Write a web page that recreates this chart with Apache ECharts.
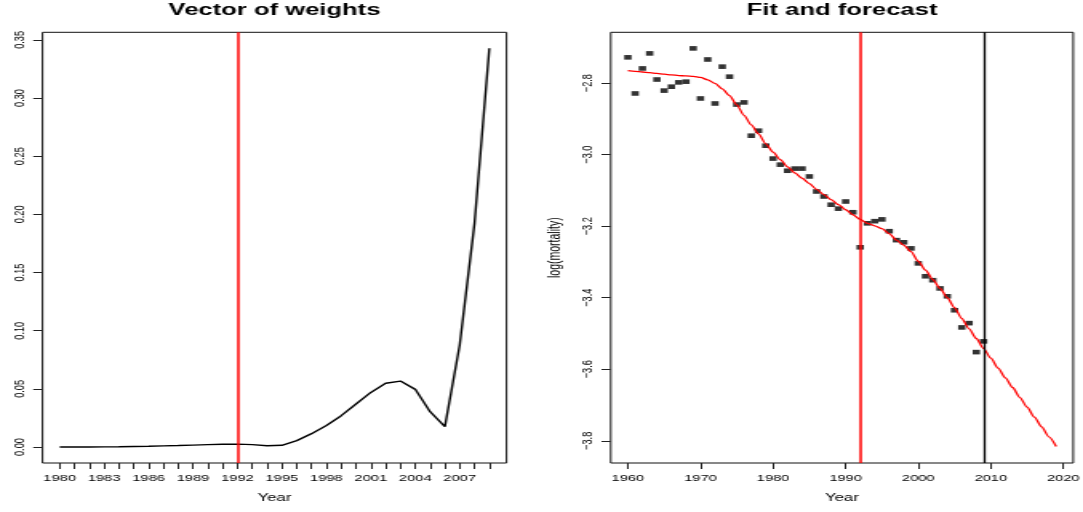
<!DOCTYPE html>
<html>
<head>
<meta charset="utf-8">
<script src="https://cdn.jsdelivr.net/npm/echarts@6/dist/echarts.min.js"></script>
<style>
  html, body { margin: 0; padding: 0; background: #fff; overflow: hidden; }
  /* The figure is laid out on a narrower canvas and widened to the page width,
     which gives the wide lettering and flat point marks of the original plot device. */
  #chart { width: 677px; height: 512px; transform: scaleX(1.5997); transform-origin: 0 0; }
</style>
</head>
<body>
<div id="chart"></div>
<script>
// ---- Left panel: vector of weights ----
const weightYears = [1980, 1981, 1982, 1983, 1984, 1985, 1986, 1987, 1988, 1989,
                     1990, 1991, 1992, 1993, 1994, 1995, 1996, 1997, 1998, 1999,
                     2000, 2001, 2002, 2003, 2004, 2005, 2006, 2007, 2008, 2009];
const weights = [0.0000, 0.0001, 0.0001, 0.0002, 0.0003, 0.0005, 0.0007, 0.0010, 0.0013, 0.0017,
                 0.0021, 0.0024, 0.0025, 0.0021, 0.0011, 0.0015, 0.0055, 0.0115, 0.0185, 0.0270,
                 0.0370, 0.0470, 0.0548, 0.0567, 0.0496, 0.0304, 0.0175, 0.0877, 0.1923, 0.3428];
const weightYearLabels = [1980, 1983, 1986, 1989, 1992, 1995, 1998, 2001, 2004, 2007];
const weightTicks = [0, 0.05, 0.10, 0.15, 0.20, 0.25, 0.30, 0.35];

// ---- Right panel: observed log mortality, fit and forecast ----
const obsYears = [1960, 1961, 1962, 1963, 1964, 1965, 1966, 1967, 1968, 1969,
                  1970, 1971, 1972, 1973, 1974, 1975, 1976, 1977, 1978, 1979,
                  1980, 1981, 1982, 1983, 1984, 1985, 1986, 1987, 1988, 1989,
                  1990, 1991, 1992, 1993, 1994, 1995, 1996, 1997, 1998, 1999,
                  2000, 2001, 2002, 2003, 2004, 2005, 2006, 2007, 2008, 2009];
const obsLogMortality = [-2.728, -2.829, -2.759, -2.717, -2.790, -2.821, -2.810, -2.798, -2.796, -2.703,
                         -2.843, -2.734, -2.857, -2.754, -2.782, -2.860, -2.854, -2.947, -2.933, -2.975,
                         -3.011, -3.028, -3.045, -3.039, -3.039, -3.061, -3.103, -3.117, -3.140, -3.151,
                         -3.131, -3.161, -3.259, -3.192, -3.186, -3.181, -3.214, -3.239, -3.245, -3.262,
                         -3.304, -3.340, -3.351, -3.374, -3.396, -3.435, -3.483, -3.471, -3.552, -3.522];
const fitYears = [1960, 1961, 1962, 1963, 1964, 1965, 1966, 1967, 1968, 1969,
                  1970, 1971, 1972, 1973, 1974, 1975, 1976, 1977, 1978, 1979,
                  1980, 1981, 1982, 1983, 1984, 1985, 1986, 1987, 1988, 1989,
                  1990, 1991, 1992, 1993, 1994, 1995, 1996, 1997, 1998, 1999,
                  2000, 2001, 2002, 2003, 2004, 2005, 2006, 2007, 2008, 2009,
                  2010, 2011, 2012, 2013, 2014, 2015, 2016, 2017, 2018, 2019];
const fitLogMortality = [-2.765, -2.767, -2.769, -2.771, -2.773, -2.775, -2.777, -2.779, -2.780, -2.781,
                         -2.784, -2.791, -2.801, -2.816, -2.835, -2.861, -2.890, -2.917, -2.942, -2.970,
                         -2.993, -3.014, -3.034, -3.051, -3.066, -3.081, -3.097, -3.112, -3.126, -3.140,
                         -3.154, -3.168, -3.181, -3.192, -3.199, -3.207, -3.221, -3.239, -3.253, -3.271,
                         -3.298, -3.323, -3.349, -3.374, -3.400, -3.428, -3.458, -3.487, -3.514, -3.542,
                         -3.569, -3.597, -3.624, -3.651, -3.679, -3.706, -3.734, -3.761, -3.789, -3.816];
const decadeLabels = [1960, 1970, 1980, 1990, 2000, 2010, 2020];
const logMortalityTicks = [-3.8, -3.6, -3.4, -3.2, -3.0, -2.8];

const splitYear = 1992;     // red reference line, both panels
const lastObsYear = 2009;   // end of observed data, start of forecast

const FONT = "'Liberation Sans', Arial, Helvetica, sans-serif";
const minus = s => s.replace('-', '\u2212');

const pairs = (xs, ys) => xs.map((x, i) => [x, ys[i]]);

const vLine = (value, color, width) => ({
  silent: true,
  symbol: 'none',
  label: { show: false },
  emphasis: { disabled: true },
  lineStyle: { color: color, width: width, type: 'solid' },
  data: [{ xAxis: value }]
});

const tickStyle = { color: '#222', width: 1 };
const labelStyle = { color: '#000', fontSize: 9.2, fontFamily: FONT };
const nameStyle = { color: '#000', fontSize: 10.5, fontFamily: FONT };
const titleStyle = { fontSize: 16, fontWeight: 'bold', color: '#000', fontFamily: FONT };

const chart = echarts.init(document.getElementById('chart'), null, { renderer: 'canvas' });

chart.setOption({
  animation: false,
  backgroundColor: '#ffffff',
  title: [
    { text: 'Vector of weights', left: 171.6, top: 3, padding: 0, textAlign: 'center', textStyle: titleStyle },
    { text: 'Fit and forecast', left: 526.4, top: 3, padding: 0, textAlign: 'center', textStyle: titleStyle }
  ],
  grid: [
    { left: 26.6, top: 32.3, width: 290, height: 430.7, containLabel: false, outerBoundsMode: 'none',
      show: true, borderColor: '#111', borderWidth: 1, backgroundColor: 'transparent' },
    { left: 381.8, top: 32.3, width: 289.1, height: 430.7, containLabel: false, outerBoundsMode: 'none',
      show: true, borderColor: '#111', borderWidth: 1, backgroundColor: 'transparent' }
  ],
  xAxis: [
    {
      type: 'value', gridIndex: 0, min: 1978.84, max: 2010.16,
      axisLine: { show: false, onZero: false }, splitLine: { show: false },
      axisTick: { show: true, length: 6, customValues: weightYears, lineStyle: tickStyle },
      axisLabel: Object.assign({ customValues: weightYearLabels, margin: 11, formatter: v => String(v) }, labelStyle),
      name: 'Year', nameLocation: 'middle', nameGap: 30, nameTextStyle: nameStyle
    },
    {
      type: 'value', gridIndex: 1, min: 1957.64, max: 2021.36,
      axisLine: { show: false, onZero: false }, splitLine: { show: false },
      axisTick: { show: true, length: 6, customValues: decadeLabels, lineStyle: tickStyle },
      axisLabel: Object.assign({ customValues: decadeLabels, margin: 11, formatter: v => String(v) }, labelStyle),
      name: 'Year', nameLocation: 'middle', nameGap: 30, nameTextStyle: nameStyle
    }
  ],
  yAxis: [
    {
      type: 'value', gridIndex: 0, min: -0.0137, max: 0.3565,
      axisLine: { show: false, onZero: false }, splitLine: { show: false },
      axisTick: { show: true, length: 5.8, customValues: weightTicks, lineStyle: tickStyle },
      axisLabel: Object.assign({ customValues: weightTicks, rotate: 90, margin: 10,
                                 formatter: v => v.toFixed(2) }, labelStyle)
    },
    {
      type: 'value', gridIndex: 1, min: -3.862, max: -2.658,
      axisLine: { show: false, onZero: false }, splitLine: { show: false },
      axisTick: { show: true, length: 5.8, customValues: logMortalityTicks, lineStyle: tickStyle },
      axisLabel: Object.assign({ customValues: logMortalityTicks, rotate: 90, margin: 10,
                                 formatter: v => minus(v.toFixed(1)) }, labelStyle),
      name: 'log(mortality)', nameLocation: 'middle', nameGap: 29, nameRotate: 90, nameTextStyle: nameStyle
    }
  ],
  series: [
    {
      name: 'weights', type: 'line', xAxisIndex: 0, yAxisIndex: 0,
      data: pairs(weightYears, weights),
      showSymbol: false, smooth: false,
      lineStyle: { color: '#000', width: 1.4 },
      emphasis: { disabled: true },
      markLine: vLine(splitYear, '#ff0000', 1.5),
      z: 3
    },
    {
      name: 'observed', type: 'scatter', xAxisIndex: 1, yAxisIndex: 1,
      data: pairs(obsYears, obsLogMortality),
      symbol: 'rect', symbolSize: [4.6, 4.6],
      itemStyle: { color: '#000' },
      emphasis: { disabled: true },
      z: 3
    },
    {
      name: 'fit', type: 'line', xAxisIndex: 1, yAxisIndex: 1,
      data: pairs(fitYears, fitLogMortality),
      showSymbol: false, smooth: 0.25, smoothMonotone: 'x',
      lineStyle: { color: '#ff0000', width: 1.3 },
      emphasis: { disabled: true },
      markLine: vLine(splitYear, '#ff0000', 1.5),
      z: 4
    },
    {
      name: 'forecast origin', type: 'line', xAxisIndex: 1, yAxisIndex: 1,
      data: [], showSymbol: false,
      markLine: vLine(lastObsYear, '#000000', 1.3),
      z: 4
    }
  ]
});
</script>
</body>
</html>
